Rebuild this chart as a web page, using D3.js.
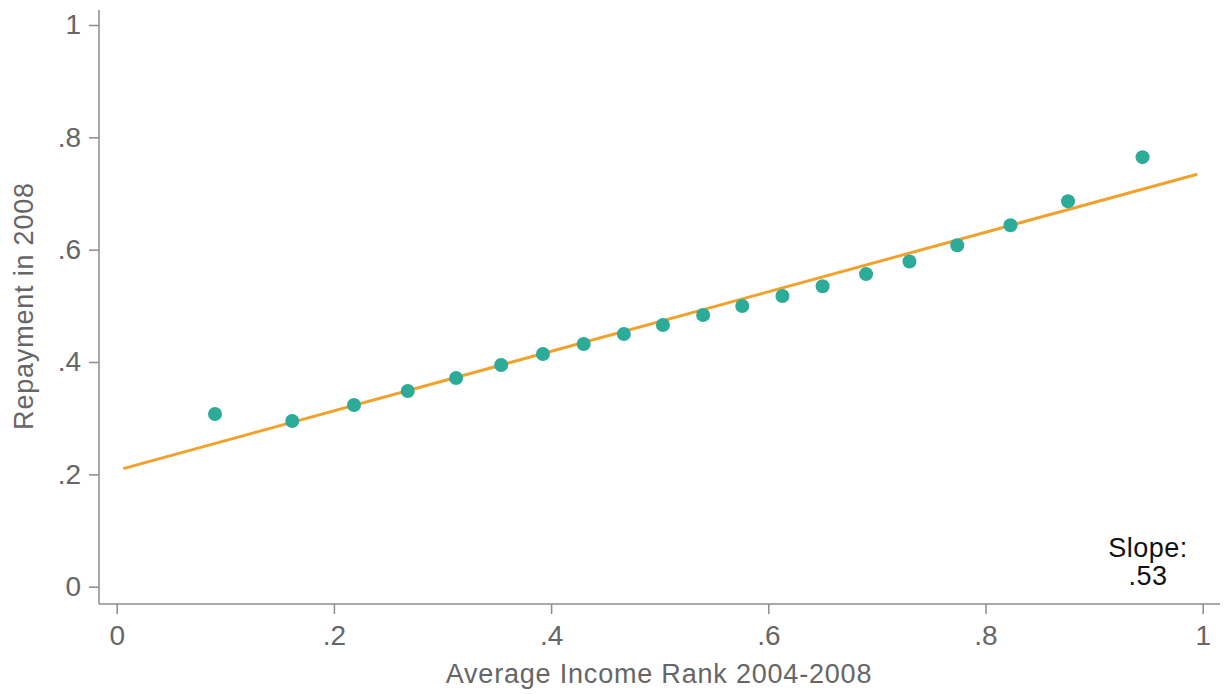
<!DOCTYPE html>
<html>
<head>
<meta charset="utf-8">
<script src="https://cdn.jsdelivr.net/npm/d3@7"></script>
<style>
  html, body { margin: 0; padding: 0; background: #fff; }
  svg { display: block; font-family: "Liberation Sans", Arial, Helvetica, sans-serif; }
</style>
</head>
<body>
<svg id="chart" width="1225" height="694"></svg>
<script>
// Binned scatter: average income rank vs. repayment share
const incomeRank = [0.0905, 0.1616, 0.2185, 0.268, 0.3125, 0.354, 0.3925, 0.430, 0.467, 0.503,
                    0.540, 0.576, 0.613, 0.650, 0.690, 0.730, 0.774, 0.823, 0.876, 0.9446];
const repayment  = [0.3075, 0.295, 0.3235, 0.3484, 0.3716, 0.3947, 0.4143, 0.432, 0.450, 0.466,
                    0.4838, 0.4998, 0.5176, 0.535, 0.5565, 0.579, 0.608, 0.6436, 0.6863, 0.7647];

// Linear fit
const fitSlope = 0.53;
const fitIntercept = 0.207;
const fitRange = [0.006, 0.995];

const xTicks = [0, 0.2, 0.4, 0.6, 0.8, 1];
const yTicks = [0, 0.2, 0.4, 0.6, 0.8, 1];
const xTickLabels = ["0", ".2", ".4", ".6", ".8", "1"];
const yTickLabels = ["0", ".2", ".4", ".6", ".8", "1"];

const svg = d3.select("#chart");

const x = d3.scaleLinear().domain([0, 1]).range([116.7, 1202.7]);
const y = d3.scaleLinear().domain([0, 1]).range([586.7, 25]);

const axisColor = "#8c8c8c";
const labelColor = "#666666";

// Axis lines (frame extends past tick range)
svg.append("line")
  .attr("x1", 99).attr("x2", 99).attr("y1", 10).attr("y2", 604)
  .attr("stroke", axisColor).attr("stroke-width", 1.5);
svg.append("line")
  .attr("x1", 99).attr("x2", 1220).attr("y1", 604).attr("y2", 604)
  .attr("stroke", axisColor).attr("stroke-width", 1.5);

// Y axis
const yAxis = d3.axisLeft(y).tickValues(yTicks)
  .tickFormat((d, i) => yTickLabels[i]).tickSize(10).tickPadding(8);
const gy = svg.append("g").attr("transform", "translate(99,0)").call(yAxis);
gy.select(".domain").remove();
gy.selectAll(".tick line").attr("stroke", axisColor).attr("stroke-width", 1.5);
gy.selectAll(".tick text").attr("fill", labelColor).attr("font-size", 28)
  .attr("font-family", "Liberation Sans, Arial, sans-serif");

// X axis
const xAxis = d3.axisBottom(x).tickValues(xTicks)
  .tickFormat((d, i) => xTickLabels[i]).tickSize(10).tickPadding(11);
const gx = svg.append("g").attr("transform", "translate(0,604)").call(xAxis);
gx.select(".domain").remove();
gx.selectAll(".tick line").attr("stroke", axisColor).attr("stroke-width", 1.5);
gx.selectAll(".tick text").attr("fill", labelColor).attr("font-size", 28)
  .attr("font-family", "Liberation Sans, Arial, sans-serif");

// Axis titles
svg.append("text")
  .attr("x", 659).attr("y", 683)
  .attr("text-anchor", "middle")
  .attr("fill", labelColor).attr("font-size", 27)
  .attr("letter-spacing", 0.8)
  .text("Average Income Rank 2004-2008");

svg.append("text")
  .attr("transform", "translate(33,306) rotate(-90)")
  .attr("text-anchor", "middle")
  .attr("fill", labelColor).attr("font-size", 27)
  .attr("letter-spacing", 0.8)
  .text("Repayment in 2008");

// Fit line
const fitPts = fitRange.map(v => [v, fitIntercept + fitSlope * v]);
svg.append("path")
  .datum(fitPts)
  .attr("d", d3.line().x(d => x(d[0])).y(d => y(d[1])))
  .attr("fill", "none")
  .attr("stroke", "#efa22c")
  .attr("stroke-width", 3);

// Points
svg.append("g").selectAll("circle")
  .data(incomeRank.map((v, i) => [v, repayment[i]]))
  .join("circle")
  .attr("cx", d => x(d[0]))
  .attr("cy", d => y(d[1]))
  .attr("r", 7)
  .attr("fill", "#2bab98");

// Slope annotation
const ann = svg.append("text")
  .attr("text-anchor", "middle")
  .attr("fill", "#111")
  .attr("font-size", 27)
  .attr("letter-spacing", 0.5);
ann.append("tspan").attr("x", 1148).attr("y", 557).text("Slope:");
ann.append("tspan").attr("x", 1148).attr("y", 585).text("." + Math.round(fitSlope * 100));
</script>
</body>
</html>
